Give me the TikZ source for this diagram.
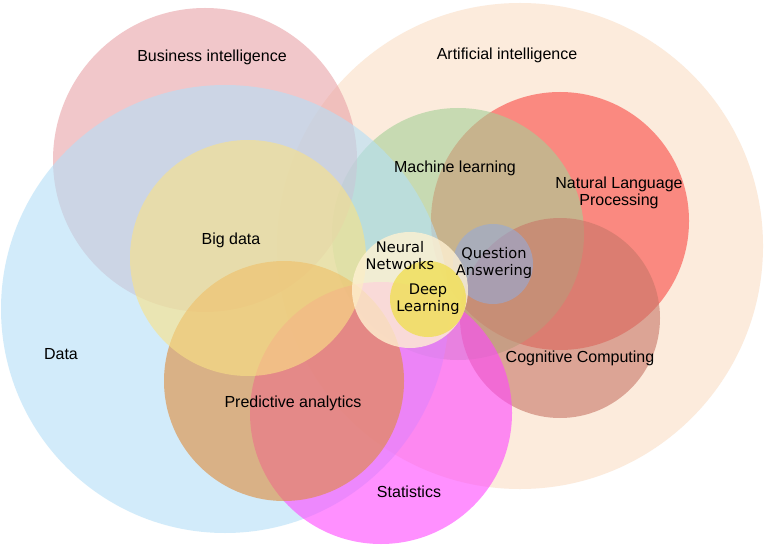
\documentclass[tikz,border=0pt]{standalone}
\usepackage{fontspec}
\setmainfont{Liberation Sans}
\newfontfamily\smallfont{DejaVu Sans}
\definecolor{cAI}{RGB}{252,235,220}
\definecolor{cNLP}{RGB}{249,73,67}
\definecolor{cML}{RGB}{165,207,150}
\definecolor{cCC}{RGB}{199,118,103}
\definecolor{cQA}{RGB}{150,170,215}
\definecolor{cBI}{RGB}{233,163,167}
\definecolor{cData}{RGB}{180,223,247}
\definecolor{cStat}{RGB}{255,70,255}
\definecolor{cPred}{RGB}{223,139,58}
\definecolor{cBig}{RGB}{250,226,133}
\definecolor{cNN}{RGB}{255,241,210}
\definecolor{cDL}{RGB}{240,222,85}
\tikzset{
  disc/.style 2 args={circle, inner sep=0pt, minimum size=#1pt, fill=#2, fill opacity=0.6, draw=none},
  lbl/.style={font=\fontsize{16}{17.5}\selectfont, align=center, text=black, inner sep=0pt},
  slbl/.style={font=\smallfont\fontsize{14.6}{17}\selectfont, align=center, text=black, inner sep=0pt}
}
\begin{document}
\begin{tikzpicture}[x=1pt,y=-1pt]
\useasboundingbox (0,0) rectangle (767,545);
\fill[white] (0,0) rectangle (767,545);
% circles
\node[circle, inner sep=0pt, minimum size=486pt, fill=cAI] (ai) at (520,246) {};
\node[disc={258}{cNLP}] (nlp) at (560,221) {};
\node[disc={252}{cML}] (ml) at (458,234) {};
\node[disc={200}{cCC}] (cc) at (560,318) {};
\node[disc={80}{cQA}] (qa) at (493,264) {};
\node[disc={304}{cBI}] (bi) at (205,160) {};
\node[disc={448}{cData}] (data) at (225,309) {};
\node[disc={262}{cStat}] (stat) at (381,413) {};
\node[disc={240}{cPred}] (pred) at (284,381) {};
\node[disc={236}{cBig}] (big) at (248,258) {};
\node[disc={116}{cNN}, fill opacity=0.8] (nn) at (410,290) {};
\node[disc={76}{cDL}, fill opacity=0.8] (dl) at (428,299) {};
% labels
\node[lbl] (tbi) at (212,57) {Business intelligence};
\node[lbl] (tai) at (507,55) {Artificial intelligence};
\node[lbl] (tml) at (455,168) {Machine learning};
\node[lbl] (tnlp) at (619,193) {Natural Language\\Processing};
\node[lbl] (tbig) at (231,240) {Big data};
\node[lbl] (tdata) at (61,354) {Data};
\node[lbl] (tpred) at (293,403) {Predictive analytics};
\node[lbl] (tcc) at (580,358) {Cognitive Computing};
\node[lbl] (tstat) at (409,492) {Statistics};
\node[slbl] (tnn) at (400,256) {Neural\\Networks};
\node[slbl] (tqa) at (494,263) {Question\\Answering};
\node[slbl] (tdl) at (428,299) {Deep\\Learning};
\end{tikzpicture}
\end{document}
